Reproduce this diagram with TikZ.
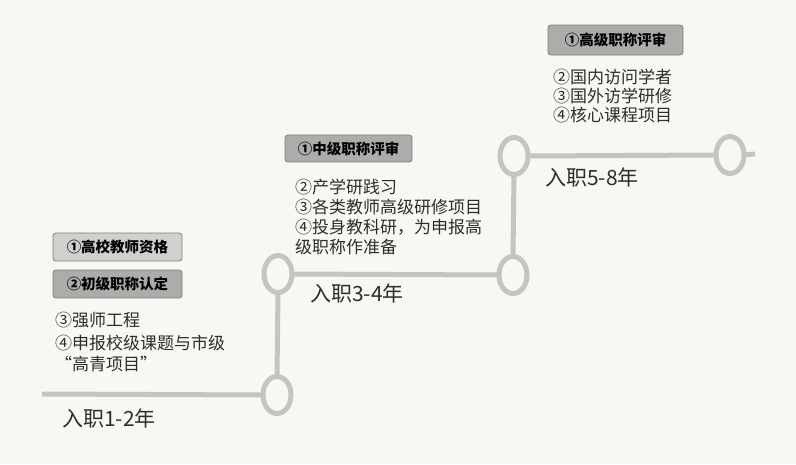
\documentclass[tikz,border=0pt]{standalone}
\usepackage{fontspec}
\setmainfont{Noto Sans CJK SC}
\usetikzlibrary{shapes.geometric}
\definecolor{bgc}{RGB}{247,247,244}
\definecolor{linec}{RGB}{196,196,194}
\definecolor{txtc}{RGB}{45,45,45}
\definecolor{boxlight}{RGB}{208,208,206}
\definecolor{boxdark}{RGB}{172,172,170}
\definecolor{boxborder}{RGB}{125,125,125}
\tikzset{
  ring/.style={ellipse, draw=linec, line width=5pt, minimum width=28pt, minimum height=37pt, inner sep=0pt, outer sep=0pt},
  stair/.style={draw=linec, line width=5pt},
  tagbox/.style={draw=boxborder, line width=0.8pt, rounded corners=3pt, inner sep=0pt, text=black,
    font=\fontsize{14.5}{16}\selectfont\bfseries, minimum height=28pt},
  bodytext/.style={anchor=base west, inner sep=0pt, text=txtc, font=\fontsize{17}{20}\selectfont},
  yeartext/.style={anchor=base west, inner sep=0pt, text=txtc, font=\fontsize{21}{23}\selectfont},
}
\begin{document}
\begin{tikzpicture}[x=1pt,y=-1pt]
\fill[bgc] (0,0) rectangle (796,464);
\useasboundingbox (0,0) rectangle (796,464);
% stair line
\coordinate (s) at (42,394);
\coordinate (e) at (755,154);
\node[ring] (c1) at (277,395) {};
\node[ring] (c2) at (278,274) {};
\node[ring] (c3) at (513,275) {};
\node[ring] (c4) at (514,156) {};
\node[ring] (c5) at (730,155) {};
\draw[stair] (s) -- (c1.west);
\draw[stair] (c1.north) -- (c2.south);
\draw[stair] (c2.east) -- (c3.west);
\draw[stair] (c3.north) -- (c4.south);
\draw[stair] (c4.east) -- (c5.west);
\draw[stair] (c5.east) -- (e);
% boxes
\node[tagbox, fill=boxlight, minimum width=129pt] (b1) at (117.5,247) {①高校教师资格};
\node[tagbox, fill=boxdark, minimum width=129pt] (b2) at (117.5,284) {②初级职称认定};
\node[tagbox, fill=boxdark, minimum width=127pt, minimum height=27pt] (b3) at (348.5,148.5) {①中级职称评审};
\node[tagbox, fill=boxdark, minimum width=135pt, minimum height=30pt] (b4) at (615.5,40) {①高级职称评审};
% body texts, tier 1
\node[bodytext] (t11) at (55,326.5) {③强师工程};
\node[bodytext] (t12) at (55,349) {④申报校级课题与市级};
\node[bodytext] (t13) at (55,370) {“高青项目”};
% tier 2
\node[bodytext] (t21) at (295,193.5) {②产学研践习};
\node[bodytext] (t22) at (295,213.5) {③各类教师高级研修项目};
\node[bodytext] (t23) at (295,233.5) {④投身教科研，为申报高};
\node[bodytext] (t24) at (295,253.5) {级职称作准备};
% tier 3
\node[bodytext] (t31) at (553,83.5) {②国内访问学者};
\node[bodytext] (t32) at (553,102.5) {③国外访学研修};
\node[bodytext] (t33) at (553,121.5) {④核心课程项目};
% years
\node[yeartext] (y1) at (62,426) {入职1-2年};
\node[yeartext] (y2) at (310,301) {入职3-4年};
\node[yeartext] (y3) at (545,185) {入职5-8年};
\end{tikzpicture}
\end{document}
